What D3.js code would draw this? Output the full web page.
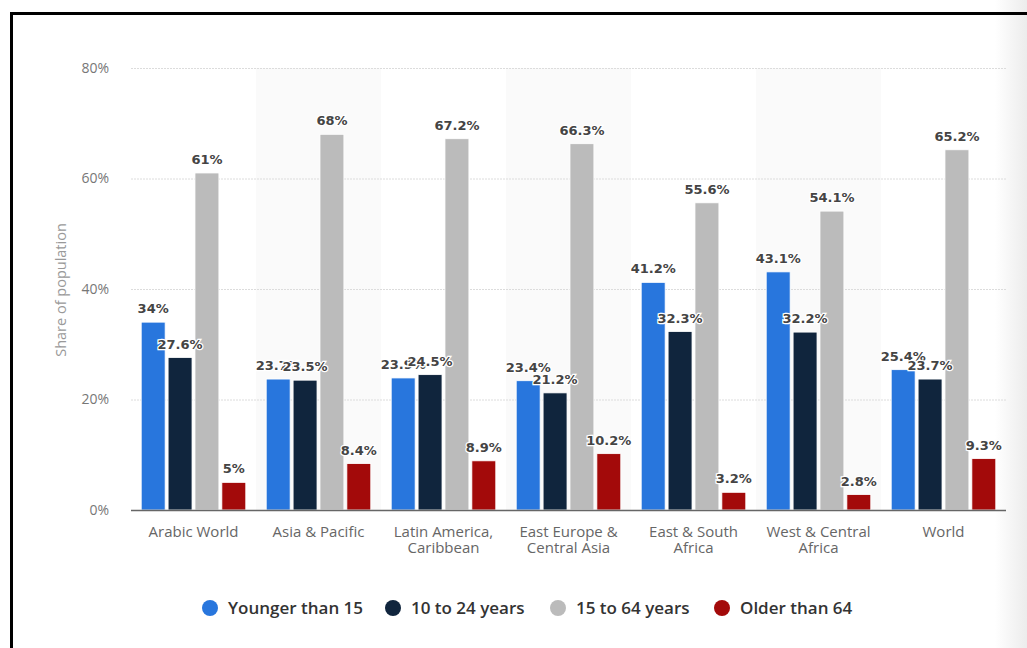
<!DOCTYPE html>
<html>
<head>
<meta charset="utf-8">
<script src="https://cdn.jsdelivr.net/npm/d3@7"></script>
<style>
  body { margin: 0; background: #fff; }
  svg { display: block; }
</style>
</head>
<body>
<svg id="svg" width="1027" height="648"></svg>
<script>
// ********************************************
// Data

var regions = [['Arabic World'], ['Asia & Pacific'], ['Latin America,', 'Caribbean'], ['East Europe &', 'Central Asia'], ['East & South', 'Africa'], ['West & Central', 'Africa'], ['World']];
var series = ['Younger than 15', '10 to 24 years', '15 to 64 years', 'Older than 64'];
var colors = ['#2876dd', '#10253d', '#bbbbbb', '#a30a0a'];

var younger15 = [34, 23.7, 23.9, 23.4, 41.2, 43.1, 25.4];
var age10to24 = [27.6, 23.5, 24.5, 21.2, 32.3, 32.2, 23.7];
var age15to64 = [61, 68, 67.2, 66.3, 55.6, 54.1, 65.2];
var older64 = [5, 8.4, 8.9, 10.2, 3.2, 2.8, 9.3];

var yTicks = [0, 20, 40, 60, 80];

// ********************************************
// Setup

var svg = d3.select('#svg');
var margin = { left: 131, right: 1006, top: 68, bottom: 510 };

var x0 = d3.scaleBand().domain(d3.range(regions.length)).range([margin.left, margin.right]);
var x1 = d3.scaleBand().domain(d3.range(series.length)).range([0, x0.bandwidth()]).paddingInner(0.11).paddingOuter(0.38);
var y = d3.scaleLinear().domain([0, 80]).range([margin.bottom, margin.top]);

var values = [younger15, age10to24, age15to64, older64];

// right edge shading
var defs = svg.append('defs');
var grad = defs.append('linearGradient').attr('id', 'edge').attr('x1', 0).attr('x2', 1);
grad.append('stop').attr('offset', 0).attr('stop-color', '#fff');
grad.append('stop').attr('offset', 1).attr('stop-color', '#ececec');
svg.append('rect').attr('x', 995).attr('y', 0).attr('width', 32).attr('height', 648).attr('fill', 'url(#edge)');

// alternating column bands
svg.append('g').selectAll('rect')
  .data(d3.range(regions.length).filter(i => i % 2 == 1))
  .join('rect')
  .attr('x', i => x0(i)).attr('y', margin.top)
  .attr('width', x0.bandwidth()).attr('height', margin.bottom - margin.top)
  .attr('fill', '#fafafa');

// grid
svg.append('g').selectAll('line')
  .data(yTicks.filter(d => d > 0))
  .join('line')
  .attr('x1', margin.left).attr('x2', margin.right)
  .attr('y1', d => y(d) + 0.5).attr('y2', d => y(d) + 0.5)
  .attr('stroke', '#dcdcdc').attr('stroke-dasharray', '2 1');

// y axis
var yAxis = svg.append('g')
  .attr('transform', 'translate(' + 112 + ',0)')
  .call(d3.axisLeft(y).tickValues(yTicks).tickSize(0).tickFormat(d => d + '%'));
yAxis.select('.domain').remove();
yAxis.selectAll('text')
  .attr('font-family', 'Open Sans').attr('font-size', 14).attr('fill', '#777').attr('dx', 0);

svg.append('text')
  .attr('transform', 'translate(66,' + 290 + ') rotate(-90)')
  .attr('text-anchor', 'middle')
  .attr('font-family', 'Open Sans').attr('font-size', 14.5).attr('fill', '#999')
  .text('Share of population');

// bars
var groups = svg.append('g').selectAll('g')
  .data(regions)
  .join('g')
  .attr('transform', (d, i) => 'translate(' + x0(i) + ',0)');

groups.selectAll('rect')
  .data((d, i) => values.map((s, j) => ({ s: j, v: s[i] })))
  .join('rect')
  .attr('x', d => x1(d.s)).attr('width', x1.bandwidth())
  .attr('y', d => y(d.v)).attr('height', d => y(0) - y(d.v))
  .attr('fill', d => colors[d.s])
  .attr('stroke', '#fff').attr('stroke-width', 0.8);

// baseline
svg.append('line')
  .attr('x1', margin.left).attr('x2', margin.right)
  .attr('y1', margin.bottom + 0.5).attr('y2', margin.bottom + 0.5)
  .attr('stroke', '#666').attr('stroke-width', 1.5);

// value labels (they overlap in the original too)
groups.selectAll('text.val')
  .data((d, i) => values.map((s, j) => ({ s: j, v: s[i] })))
  .join('text')
  .attr('class', 'val')
  .attr('x', d => x1(d.s) + x1.bandwidth() / 2)
  .attr('y', d => y(d.v) - 9)
  .attr('text-anchor', 'middle')
  .attr('font-family', 'DejaVu Sans').attr('font-weight', 'bold').attr('font-size', 13)
  .attr('fill', '#444')
  .attr('stroke', '#fff').attr('stroke-width', 2.5).attr('paint-order', 'stroke')
  .text(d => d.v + '%');

// x labels
groups.append('text')
  .attr('x', x0.bandwidth() / 2)
  .attr('y', 537)
  .attr('text-anchor', 'middle')
  .attr('font-family', 'Open Sans').attr('font-size', 15).attr('fill', '#666')
  .selectAll('tspan')
  .data(d => d)
  .join('tspan')
  .attr('x', x0.bandwidth() / 2)
  .attr('dy', (d, i) => i == 0 ? 0 : 16)
  .text(d => d);

// legend
var legendX = [210, 393, 558, 722];
var legend = svg.append('g').selectAll('g')
  .data(series)
  .join('g')
  .attr('transform', (d, i) => 'translate(' + legendX[i] + ',608)');
legend.append('circle').attr('r', 8).attr('fill', (d, i) => colors[i]);
legend.append('text')
  .attr('x', 18).attr('y', 6)
  .attr('font-family', 'Open Sans').attr('font-weight', 600).attr('font-size', 17)
  .attr('fill', '#333')
  .text(d => d);

// frame
svg.append('path')
  .attr('d', 'M11.5,1000 V13.5 H1100')
  .attr('fill', 'none').attr('stroke', '#000').attr('stroke-width', 3);
</script>
</body>
</html>
